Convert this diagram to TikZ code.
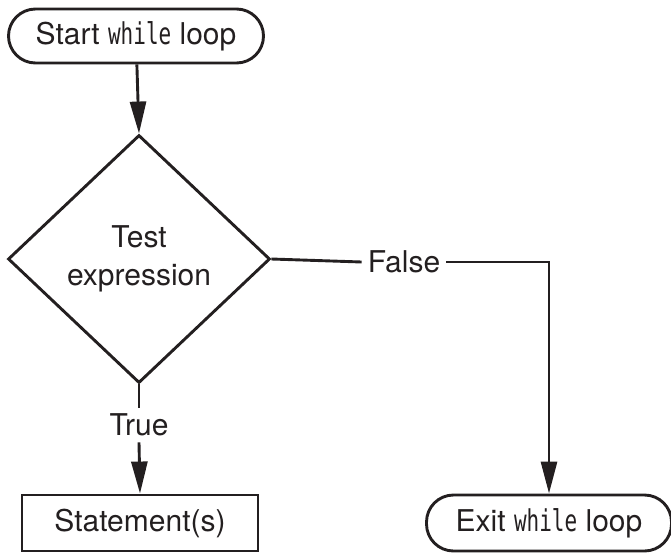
\documentclass[tikz,border=0pt]{standalone}
\usepackage{fontspec}
\setmainfont{TeX Gyre Heros}
\newfontfamily\codefont[FakeStretch=0.7]{DejaVu Sans Mono}
\usetikzlibrary{shapes.geometric,arrows.meta}
\definecolor{ink}{HTML}{231F20}
\newcommand{\kw}[1]{{\codefont #1}}
\begin{document}
\begin{tikzpicture}[x=1pt,y=-1pt,
  every node/.style={font=\fontsize{30}{38}\selectfont, text=ink},
  line/.style={draw=ink, line width=2.9pt},
  flow/.style={line, -{Triangle[length=32pt,width=16pt]}},
  terminal/.style={line, rectangle, rounded corners=27pt, inner sep=0pt},
  process/.style={line, rectangle, inner sep=0pt},
  decision/.style={line, diamond, inner sep=0pt, align=center},
  tag/.style={inner sep=6pt}
]
  \useasboundingbox (0,0) rectangle (671,552);

  \node[terminal, minimum width=255pt, minimum height=54pt] (start) at (136,36) {Start \kw{while} loop};
  \node[decision, minimum width=262pt, minimum height=248pt] (test) at (139,259) {Test\\expression};
  \node[tag] (true) at (139,425) {True};
  \node[process, minimum width=236pt, minimum height=56pt] (stmt) at (140,523) {Statement(s)};
  \node[tag] (false) at (404,262) {False};
  \node[terminal, minimum width=245pt, minimum height=56pt] (exit) at (549,523) {Exit \kw{while} loop};

  \draw[flow] (start) -- (test.north);
  \draw[line] (test.south) -- (true.north);
  \draw[flow] (true.south) -- (stmt.north);
  \draw[line] (test.east) -- (false.west);
  \draw[flow] (false.east) -| (exit.north);
\end{tikzpicture}
\end{document}
